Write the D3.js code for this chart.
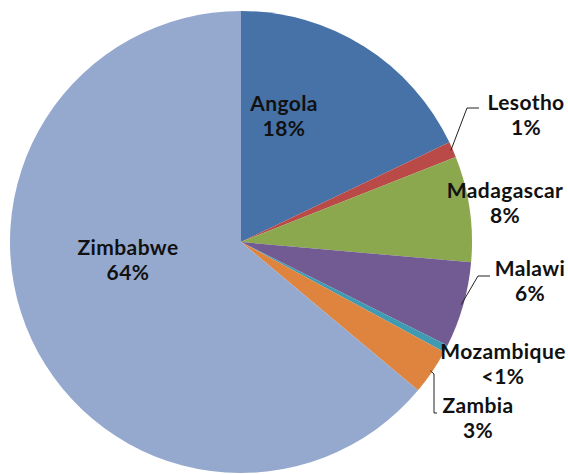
<!DOCTYPE html>
<html>
<head>
<meta charset="utf-8">
<script src="https://cdn.jsdelivr.net/npm/d3@7"></script>
<style>
  body { margin: 0; background: #fff; }
  text { font-family: Lato, "Open Sans", sans-serif; font-weight: 700; fill: #111; }
</style>
</head>
<body>
<div id="chart"></div>
<script>
// data
const countries = ["Angola", "Lesotho", "Madagascar", "Malawi", "Mozambique", "Zambia", "Zimbabwe"];
const shares = [17.9, 1.1, 7.4, 6.0, 0.5, 3.2, 63.9];
const pctLabels = ["18%", "1%", "8%", "6%", "<1%", "3%", "64%"];
const colors = ["#4672A8", "#B94A47", "#8BA84F", "#725A93", "#3F9AB2", "#DE843F", "#95A9CF"];

let width = 568, height = 474;
let cx = 241, cy = 242, radius = 231;

let svg = d3.select("#chart").append("svg")
    .attr("width", width)
    .attr("height", height);

let pie = d3.pie().sort(null).value(d => d.value);
let arc = d3.arc().innerRadius(0).outerRadius(radius);

let rows = countries.map((c, i) => ({name: c, value: shares[i], pct: pctLabels[i], color: colors[i]}));
let arcs = pie(rows);

let g = svg.append("g").attr("transform", `translate(${cx},${cy})`);

g.selectAll("path.slice")
    .data(arcs)
    .enter()
    .append("path")
    .attr("class", "slice")
    .attr("d", arc)
    .attr("fill", d => d.data.color);

// label placement (absolute page coords), text centre x + first baseline
let labelPos = {
    "Angola":     {x: 284, y: 111},
    "Lesotho":    {x: 526, y: 110, line: [[467, 108], [479, 108]]},
    "Madagascar": {x: 505, y: 198},
    "Malawi":     {x: 530, y: 276, line: [[478, 276], [490, 276]]},
    "Mozambique": {x: 503, y: 359},
    "Zambia":     {x: 478, y: 413, line: [[434, 374], [434, 413], [437, 413]]},
    "Zimbabwe":   {x: 128, y: 255}
};

// leader lines start at the slice edge
arcs.forEach(d => {
    let p = labelPos[d.data.name];
    if (!p.line) return;
    let mid = (d.startAngle + d.endAngle) / 2;
    let sx = cx + Math.sin(mid) * (radius - 2);
    let sy = cy - Math.cos(mid) * (radius - 2);
    let pts = [[sx, sy]].concat(p.line);
    svg.append("path")
        .attr("d", d3.line()(pts))
        .attr("fill", "none")
        .attr("stroke", "#222")
        .attr("stroke-width", 1);
});

let labels = svg.selectAll("text.lbl")
    .data(arcs)
    .enter()
    .append("text")
    .attr("class", "lbl")
    .attr("text-anchor", "middle")
    .style("font-size", "21px")
    .style("letter-spacing", "0.4px");

labels.append("tspan")
    .attr("x", d => labelPos[d.data.name].x)
    .attr("y", d => labelPos[d.data.name].y)
    .text(d => d.data.name);

labels.append("tspan")
    .attr("x", d => labelPos[d.data.name].x)
    .attr("y", d => labelPos[d.data.name].y + 25)
    .text(d => d.data.pct);
</script>
</body>
</html>
